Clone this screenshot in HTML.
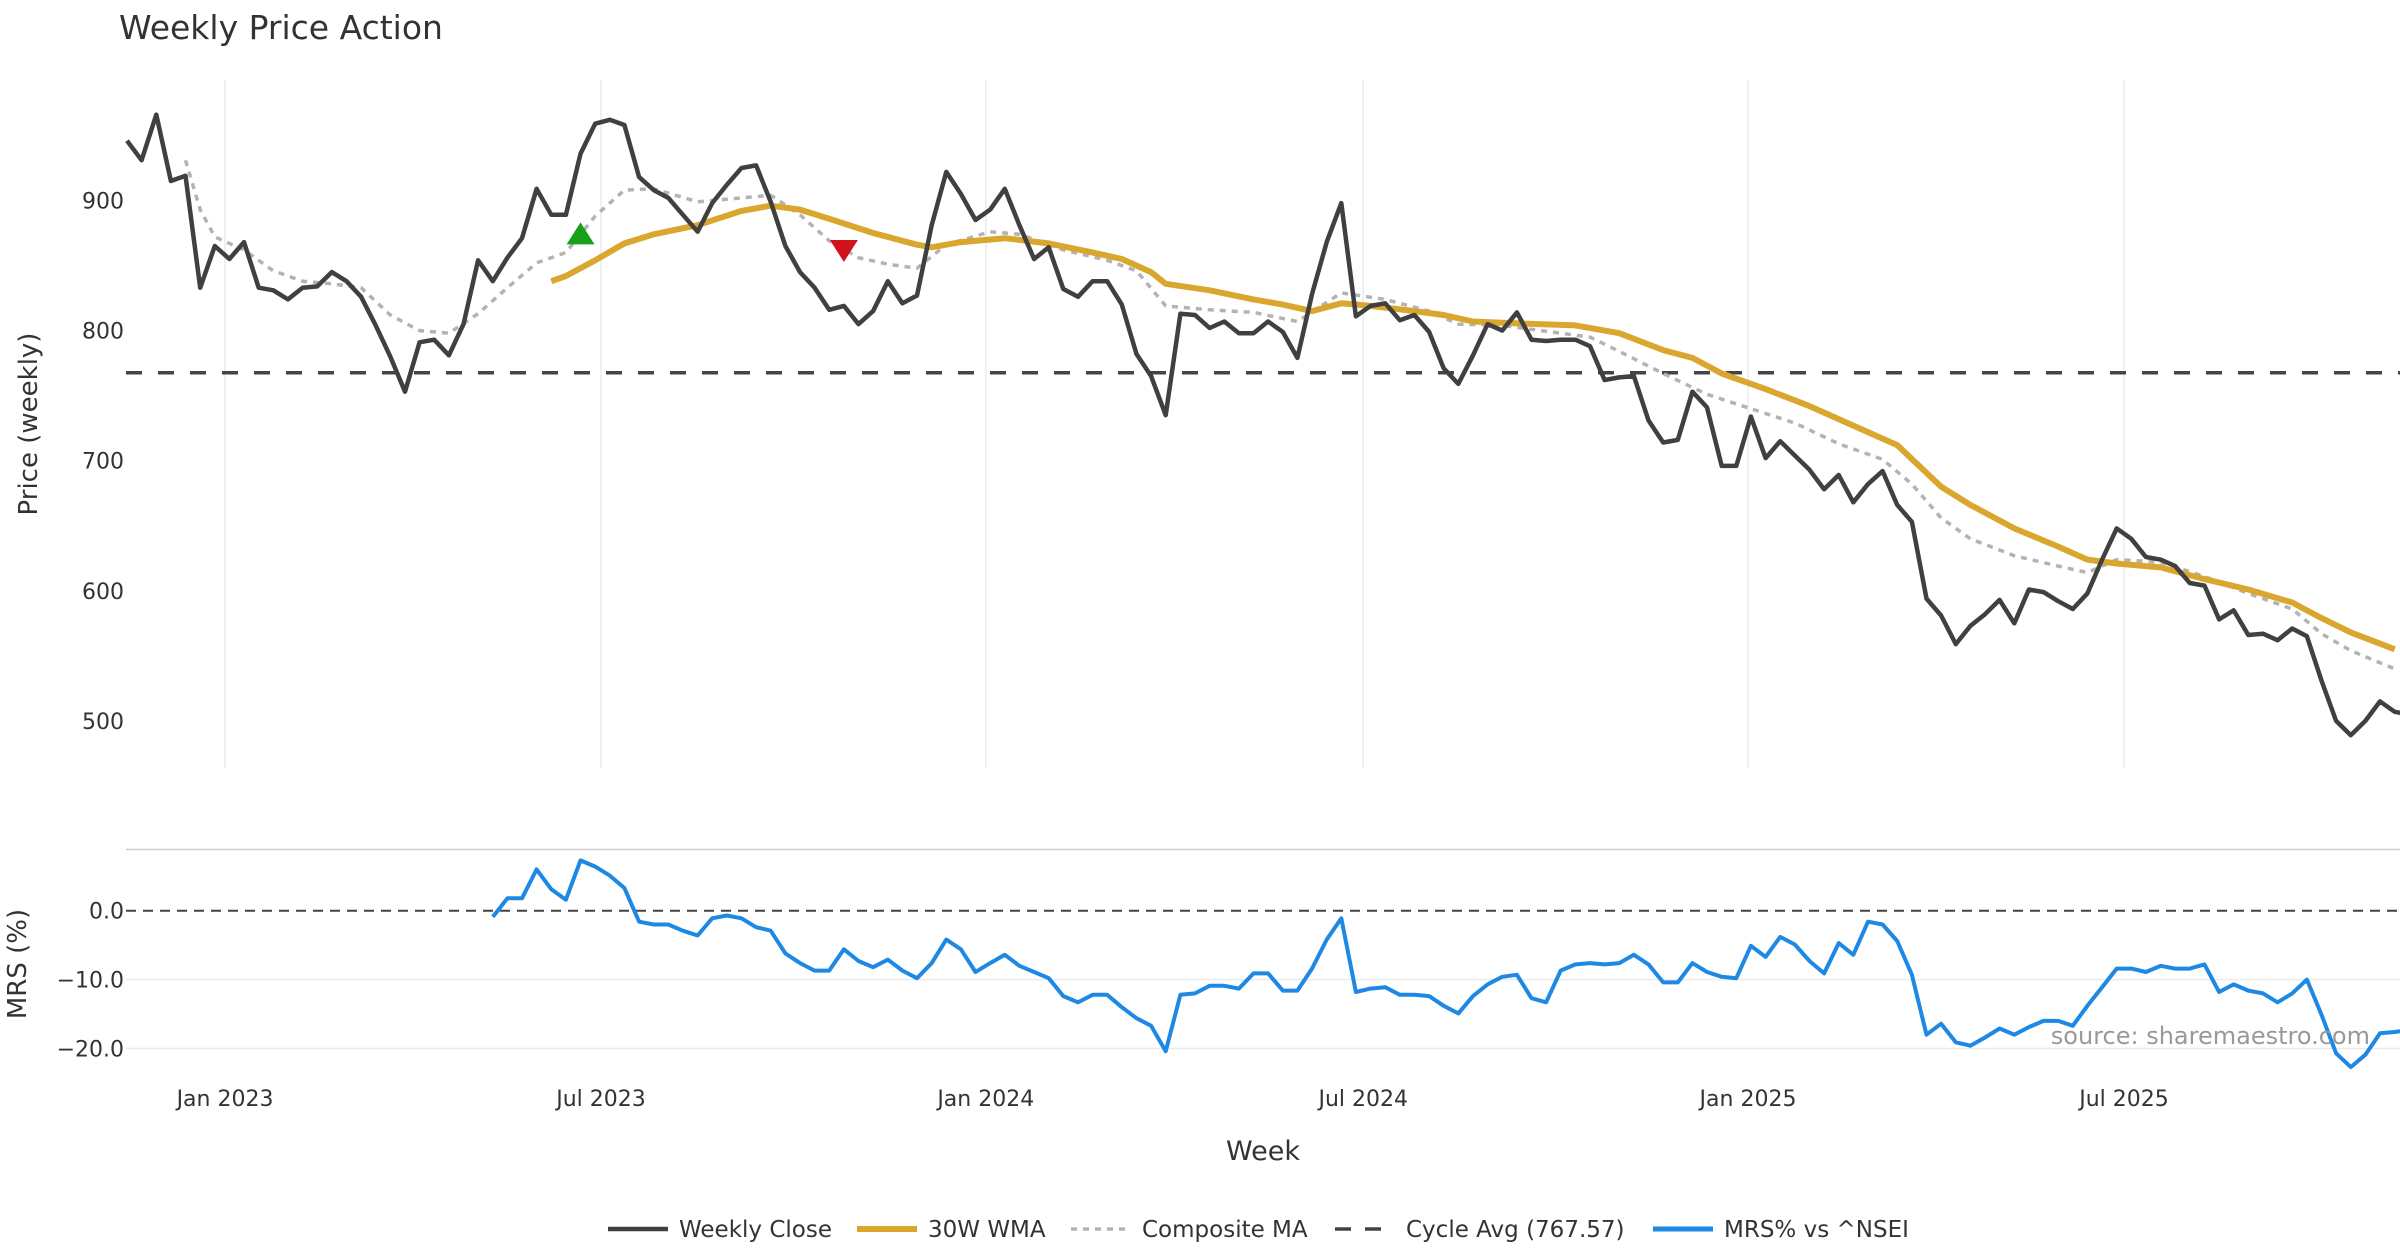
<!DOCTYPE html>
<html><head><meta charset="utf-8"><style>
html,body{margin:0;padding:0;background:#fff;}
svg{display:block;font-family:"DejaVu Sans","Liberation Sans",sans-serif;}
</style></head><body>
<svg id="chart" width="2400" height="1260" viewBox="0 0 2400 1260" xmlns="http://www.w3.org/2000/svg">
<text x="119" y="39" font-size="33" fill="#333">Weekly Price Action</text>
<g id="grid"></g>
<g id="top"></g>
<g id="bot"></g>
<text transform="translate(37,424) rotate(-90)" text-anchor="middle" font-size="26" fill="#333">Price (weekly)</text>
<text transform="translate(26,964) rotate(-90)" text-anchor="middle" font-size="26" fill="#333">MRS (%)</text>
<text x="1263" y="1160" text-anchor="middle" font-size="27" fill="#333">Week</text>
<text x="2370" y="1044" text-anchor="end" font-size="24" fill="#999">source: sharemaestro.com</text>
<g id="legend"></g>
</svg>
<script>
const closeVals=[946,931,966,915,919,833,865,855,868,833,831,824,833,834,845,838,826,804,780,753,791,793,781,805,854,838,856,871,909,889,889,936,959,962,958,918,908,902,889,876,898,912,925,927,899,865,845,833,816,819,805,815,838,821,827,881,922,905,885,893,909,881,855,864,832,826,838,838,820,782,765,735,813,812,802,807,798,798,807,799,779,828,868,898,811,819,821,808,812,799,771,759,781,805,800,814,793,792,793,793,788,762,764,765,731,714,716,753,741,696,696,734,702,715,704,693,678,689,668,682,692,666,653,594,581,559,573,582,593,575,601,599,592,586,598,624,648,640,626,624,619,606,604,578,585,566,567,562,571,565,531,500,489,500,515,507,505];
const wmaWeeks=[29,30,32,34,36,39,42,44,46,48,51,54,55,57,60,63,66,68,70,71,74,77,79,81,83,85,88,90,92,94,99,102,105,107,109,112,115,118,121,124,126,129,132,134,136,139,142,145,148,150,152,155];
const wmaVals=[838,842,854,867,874,881,892,896,893,886,875,866,864,868,871,867,860,855,845,836,831,824,820,815,821,819,815,812,807,806,804,798,785,779,767,755,742,727,712,680,666,648,634,624,621,618,609,601,591,579,568,555];
const compWeeks=[4,5,6,8,10,12,14,16,18,20,22,24,26,28,30,32,34,36,39,42,44,46,48,50,52,54,56,59,61,64,67,69,71,74,77,80,83,86,89,91,94,96,100,102,105,108,111,114,117,120,122,124,126,129,132,134,136,139,142,145,148,150,152,155];
const compVals=[931,893,872,862,846,838,836,833,812,800,798,813,833,852,860,888,908,909,899,902,904,889,869,856,851,848,866,876,874,862,854,846,819,816,814,807,829,824,815,805,804,801,795,784,767,751,740,729,713,701,682,656,640,627,619,614,624,622,611,598,586,567,554,540];
const mrsStartWeek=25;
const mrsVals=[-0.9,1.8,1.8,6.0,3.1,1.6,7.3,6.4,5.1,3.3,-1.6,-2.0,-2.0,-2.9,-3.6,-1.1,-0.7,-1.1,-2.4,-2.9,-6.2,-7.6,-8.7,-8.7,-5.6,-7.3,-8.2,-7.1,-8.7,-9.8,-7.6,-4.2,-5.6,-8.9,-7.6,-6.4,-8.0,-8.9,-9.8,-12.4,-13.3,-12.2,-12.2,-14.0,-15.6,-16.7,-20.4,-12.2,-12.0,-10.9,-10.9,-11.3,-9.1,-9.1,-11.6,-11.6,-8.4,-4.2,-1.1,-11.8,-11.3,-11.1,-12.2,-12.2,-12.4,-13.8,-14.9,-12.4,-10.7,-9.6,-9.3,-12.7,-13.3,-8.7,-7.8,-7.6,-7.8,-7.6,-6.4,-7.8,-10.4,-10.4,-7.6,-8.9,-9.6,-9.8,-5.1,-6.7,-3.8,-4.9,-7.3,-9.1,-4.7,-6.4,-1.6,-2.0,-4.4,-9.3,-18.0,-16.4,-19.1,-19.6,-18.4,-17.1,-18.0,-16.9,-16.0,-16.0,-16.7,-13.8,-11.1,-8.4,-8.4,-8.9,-8.0,-8.4,-8.4,-7.8,-11.8,-10.7,-11.6,-12.0,-13.3,-12.0,-10.0,-15.1,-20.7,-22.7,-20.9,-17.8,-17.6,-17.3];
const priceTicks=[500,600,700,800,900];
const mrsTicks=[0,-10,-20];
const mrsTickLabels=["0.0","\u221210.0","\u221220.0"];
const dateLabels=["Jan 2023","Jul 2023","Jan 2024","Jul 2024","Jan 2025","Jul 2025"];
const dateWeeks=[6.7,32.4,58.7,84.5,110.8,136.5];
const cycleAvg=767.57;
const buyWeek=31, buyVal=874;
const sellWeek=49, sellVal=862;

const NS="http://www.w3.org/2000/svg";
const xS=w=>127+w*14.63;
const yP=v=>200.5+(900-v)*1.301;
const yM=v=>910.7-v*6.89;
function mk(tag,attrs,parent){const e=document.createElementNS(NS,tag);for(const k in attrs)e.setAttribute(k,attrs[k]);parent.appendChild(e);return e;}
const grid=document.getElementById('grid'),top_=document.getElementById('top'),bot=document.getElementById('bot'),leg=document.getElementById('legend');

dateWeeks.forEach((w,i)=>{
 const l=mk('line',{x1:xS(w),x2:xS(w),y1:80,y2:768,stroke:'#ebebeb','stroke-width':1.5},grid);
 
 
 const t=mk('text',{x:xS(w),y:1106,'text-anchor':'middle','font-size':22,fill:'#333'},grid);
 t.textContent=dateLabels[i];
 
 
});
priceTicks.forEach(v=>{
 const t=mk('text',{x:124,y:yP(v)+8,'text-anchor':'end','font-size':22,fill:'#333'},grid);
 t.textContent=v;
 
 
});
mrsTicks.forEach((v,i)=>{
 if(v!==0){const l=mk('line',{x1:126,x2:2400,y1:yM(v),y2:yM(v),stroke:'#ebebeb','stroke-width':1.5},grid);
 
 }
 const t=mk('text',{x:124,y:yM(v)+8,'text-anchor':'end','font-size':22,fill:'#333'},grid);
 t.textContent=mrsTickLabels[i];
 
 
});
const sep=mk('line',{x1:126,x2:2400,y1:849.5,y2:849.5,stroke:'#cccccc','stroke-width':1.5},grid);



function path(xs,ys,attrs,parent){let d='';xs.forEach((x,i)=>{d+=(i?'L':'M')+x.toFixed(1)+' '+ys[i].toFixed(1);});return mk('path',Object.assign({d:d,fill:'none','stroke-linejoin':'round'},attrs),parent);}

const cy=mk('line',{x1:126,x2:2400,y1:yP(cycleAvg),y2:yP(cycleAvg),stroke:'#444','stroke-width':3.5,'stroke-dasharray':'16 16'},top_);


const cp=path(compWeeks.map(xS),compVals.map(yP),{stroke:'#b3b3b3','stroke-width':3.5,'stroke-dasharray':'6 6'},top_);


const wm=path(wmaWeeks.map(xS),wmaVals.map(yP),{stroke:'#d9a62e','stroke-width':6},top_);


const cl=path(closeVals.map((v,i)=>xS(i)),closeVals.map(yP),{stroke:'#404040','stroke-width':4.5},top_);


const bx=xS(buyWeek),by=yP(buyVal);
const bm=mk('polygon',{points:`${bx-14},${by+10} ${bx+14},${by+10} ${bx},${by-12}`,fill:'#18a01a'},top_);


const sx=xS(sellWeek),sy=yP(sellVal);
const sm=mk('polygon',{points:`${sx-14},${sy-10} ${sx+14},${sy-10} ${sx},${sy+12}`,fill:'#d0121a'},top_);



const z=mk('line',{x1:126,x2:2400,y1:yM(0),y2:yM(0),stroke:'#444','stroke-width':2,'stroke-dasharray':'10 7'},bot);


const mr=path(mrsVals.map((v,i)=>xS(i+mrsStartWeek)),mrsVals.map(yM),{stroke:'#1e88e5','stroke-width':4},bot);



const legItems=[["Weekly Close",608,'#404040',4.5,''],["30W WMA",857,'#d9a62e',6,''],["Composite MA",1071,'#b3b3b3',3.5,'6 6'],["Cycle Avg (767.57)",1335,'#444',3.5,'16 14'],["MRS% vs ^NSEI",1653,'#1e88e5',5,'']];
legItems.forEach(it=>{
 const g=mk('g',{},leg);
 
 
 mk('line',{x1:it[1],x2:it[1]+60,y1:1229,y2:1229,stroke:it[2],'stroke-width':it[3],'stroke-dasharray':it[4]},g);
 const t=mk('text',{x:it[1]+71,y:1237,'font-size':23,fill:'#333'},g);
 t.textContent=it[0];
});
</script>
</body></html>
